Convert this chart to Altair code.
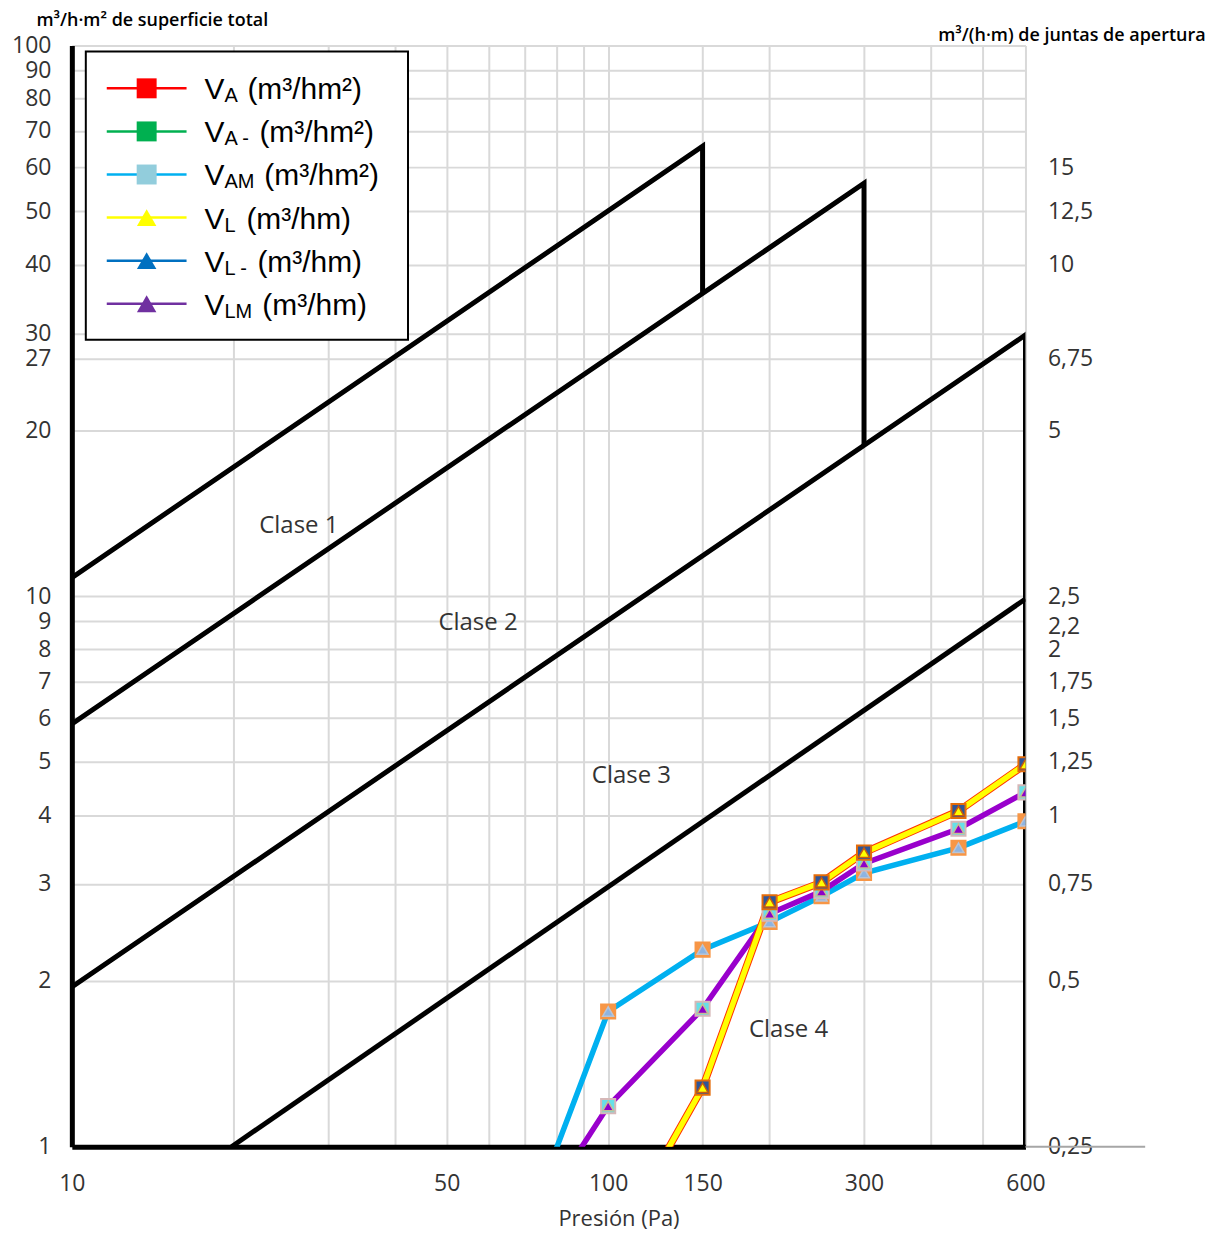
import json
import altair as alt
import pandas as pd

# ---------------- data ----------------
pressure = [50, 100, 150, 200, 250, 300, 450, 600]
serie_sup = [None, 0.636, 1.28, 2.78, 3.02, 3.42, 4.07, 4.95]   # VA / VL (yellow)
serie_med = [0.418, 1.185, 1.78, 2.65, 2.91, 3.27, 3.78, 4.40]  # VAM / VLM (purple)
serie_inf = [0.295, 1.76, 2.28, 2.56, 2.85, 3.14, 3.49, 3.90]   # VA- / VL- (cyan)

clase1_x = [10, 150, 150]
clase1_y = [10.8, 65.6, 35.5]
clase2_x = [10, 300, 300]
clase2_y = [5.86, 56.2, 18.8]
clase3_x = [10, 600, 600]
clase3_y = [1.95, 29.8, 1.0]
clase4_x = [19.85, 600]
clase4_y = [1.0, 9.88]

clase_labels = ["Clase 1", "Clase 2", "Clase 3", "Clase 4"]
clase_label_x = [26.5, 57.2, 110.5, 217]
clase_label_y = [13.4, 8.93, 4.72, 1.63]

x_grid = [10, 20, 30, 40, 50, 60, 70, 80, 90, 100, 150, 200, 300, 400, 500, 600]
x_labels = [10, 50, 100, 150, 300, 600]
y_ticks = [1, 2, 3, 4, 5, 6, 7, 8, 9, 10, 20, 27, 30, 40, 50, 60, 70, 80, 90, 100]
y2_ticks = [0.25, 0.5, 0.75, 1, 1.25, 1.5, 1.75, 2, 2.2, 2.5, 5, 6.75, 10, 12.5, 15]

legend_subs = ["A", "A -", "AM", "L", "L -", "LM"]
legend_units = ["(m³/hm²)", "(m³/hm²)", "(m³/hm²)", "(m³/hm)", "(m³/hm)", "(m³/hm)"]
legend_line_colors = ["#FF0000", "#00B050", "#00B0F0", "#FFFF00", "#0070C0", "#7030A0"]
legend_marker_colors = ["#FF0000", "#00B050", "#92CDDC", "#FFFF00", "#0070C0", "#7030A0"]
legend_shapes = ["square", "square", "square", "triangle-up", "triangle-up", "triangle-up"]

# ---------------- layout / style ----------------
W, H = 956, 1104
LABEL_FONT = "Open Sans"
TXT = "#333333"
GRID = "#D9D9D9"

xs = alt.Scale(type="log", domain=[10, 600], nice=False)
ys = alt.Scale(type="log", domain=[1, 100], nice=False)

x_axis = alt.Axis(
    values=x_grid,
    labelExpr=f"indexof({json.dumps(x_labels)}, datum.value) >= 0 ? format(datum.value, 'd') : ''",
    grid=True, gridColor=GRID, gridWidth=2, ticks=False,
    domainColor="black", domainWidth=5,
    labelFont=LABEL_FONT, labelFontSize=23, labelColor=TXT, labelPadding=26,
    labelOverlap=False, labelFlush=False,
    title="Presión (Pa)", titleFont=LABEL_FONT, titleFontSize=22, titleFontWeight="normal",
    titleColor=TXT, titleX=548, titleY=72, titleAlign="center", titleBaseline="middle",
)
y_axis = alt.Axis(
    values=y_ticks, format="d",
    grid=True, gridColor=GRID, gridWidth=2, ticks=False,
    domainColor="black", domainWidth=5,
    labelFont=LABEL_FONT, labelFontSize=23, labelColor=TXT, labelPadding=21,
    labelOverlap=False, labelFlush=False,
    title="m³/h·m² de superficie total", titleFont=LABEL_FONT, titleFontSize=18,
    titleFontWeight=600, titleColor="black", titleAngle=0, titleX=-36, titleY=-25,
    titleAlign="left", titleBaseline="middle",
)
y2_axis = alt.Axis(
    orient="right", values=y2_ticks,
    labelExpr="replace(format(datum.value, '~g'), '.', ',')",
    grid=False, ticks=False, domain=False,
    labelFont=LABEL_FONT, labelFontSize=23, labelColor=TXT, labelPadding=22,
    labelOverlap=False, labelFlush=False,
    title="m³/(h·m) de juntas de apertura", titleFont=LABEL_FONT, titleFontSize=18,
    titleFontWeight=600, titleColor="black", titleAngle=0, titleX=-88, titleY=-10,
    titleAlign="left", titleBaseline="middle",
)

# ---------------- class boundaries ----------------
rows = []
for name, xx, yy in [("c1", clase1_x, clase1_y), ("c2", clase2_x, clase2_y),
                     ("c3", clase3_x, clase3_y), ("c4", clase4_x, clase4_y)]:
    for i, (a, b) in enumerate(zip(xx, yy)):
        rows.append({"x": a, "y": b, "clase": name, "i": i})
df_cl = pd.DataFrame(rows)

classes = alt.Chart(df_cl).mark_line(color="black", strokeWidth=5, strokeJoin="miter", clip=True).encode(
    x=alt.X("x:Q", scale=xs, axis=x_axis),
    y=alt.Y("y:Q", scale=ys, axis=y_axis),
    detail="clase:N",
    order="i:Q",
)

df_lab = pd.DataFrame({"x": clase_label_x, "y": clase_label_y, "t": clase_labels})
class_text = alt.Chart(df_lab).mark_text(font=LABEL_FONT, fontSize=24, color=TXT,
                                         align="center", baseline="middle").encode(
    x=alt.X("x:Q", scale=xs), y=alt.Y("y:Q", scale=ys), text="t:N")

# ---------------- measured series ----------------
def series_df(vals):
    return pd.DataFrame({"p": pressure, "v": vals})

def enc(ch):
    return ch.encode(x=alt.X("p:Q", scale=xs), y=alt.Y("v:Q", scale=ys))

series_layers = []
styles = [
    # values, line colour, underlay, square fill, square stroke, tri fill, tri stroke
    (serie_inf, "#00B0F0", None, "#F79646", "#F79646", "#8DB4E2", "#B8C4D6"),
    (serie_med, "#9900CC", None, "#66E0E8", "#D6B8B8", "#8E00C8", "#C4BD97"),
    (serie_sup, "#FFFF00", "#FF3300", "#2F5597", "#E46C0A", "#FFFF00", "#C55A11"),
]
for vals, lc, under, sqf, sqs, trf, trs in styles:
    d = series_df(vals)
    if under:
        series_layers.append(enc(alt.Chart(d).mark_line(color=under, strokeWidth=7.5, clip=True)))
    series_layers.append(enc(alt.Chart(d).mark_line(color=lc, strokeWidth=5.5, clip=True)))
for vals, lc, under, sqf, sqs, trf, trs in styles:
    d = series_df(vals)
    series_layers.append(enc(alt.Chart(d).mark_point(shape="square", filled=True, size=200,
                                                     fill=sqf, stroke=sqs, strokeWidth=2,
                                                     opacity=1, clip=True)))
    series_layers.append(enc(alt.Chart(d).mark_point(shape="triangle-up", filled=True, size=120,
                                                     fill=trf, stroke=trs, strokeWidth=1.5,
                                                     opacity=1, clip=True)))

# ---------------- manual legend (pixel layout) ----------------
one = pd.DataFrame({"k": [0]})
leg = []
leg.append(alt.Chart(one).mark_rect(fill="white", stroke="black", strokeWidth=2).encode(
    x=alt.value(14), x2=alt.value(337), y=alt.value(6), y2=alt.value(295)))
rest_x = [176, 188, 193, 175, 186, 191]
for i in range(6):
    cy = 43 + 43.2 * i
    leg.append(alt.Chart(one).mark_rule(color=legend_line_colors[i], strokeWidth=2.5).encode(
        x=alt.value(35), x2=alt.value(115), y=alt.value(cy)))
    sz = 400 if legend_shapes[i] == "square" else 380
    leg.append(alt.Chart(one).mark_point(shape=legend_shapes[i], filled=True, size=sz,
                                         color=legend_marker_colors[i], opacity=1).encode(
        x=alt.value(75), y=alt.value(cy)))
    leg.append(alt.Chart(one).mark_text(text="V", font="Liberation Sans", fontSize=30, color="black",
                                        align="left", baseline="alphabetic").encode(
        x=alt.value(133), y=alt.value(cy + 11)))
    leg.append(alt.Chart(one).mark_text(text=legend_subs[i], font="Liberation Sans", fontSize=20,
                                        color="black", align="left", baseline="alphabetic").encode(
        x=alt.value(153), y=alt.value(cy + 14)))
    leg.append(alt.Chart(one).mark_text(text=legend_units[i], font="Liberation Sans", fontSize=30,
                                        color="black", align="left", baseline="alphabetic").encode(
        x=alt.value(rest_x[i]), y=alt.value(cy + 11)))

extra_rule = alt.Chart(one).mark_rule(color="#A6A6A6", strokeWidth=2).encode(
    x=alt.value(W), x2=alt.value(W + 120), y=alt.value(H))

main = alt.layer(classes, class_text, *series_layers, extra_rule, *leg)

right = alt.Chart(pd.DataFrame({"v": y2_ticks})).mark_point(opacity=0).encode(
    y=alt.Y("v:Q", scale=alt.Scale(type="log", domain=[0.25, 25], nice=False), axis=y2_axis))

chart = alt.layer(main, right).resolve_scale(y="independent").properties(
    width=W, height=H,
    padding={"left": 64, "top": 36, "right": 190, "bottom": 86},
    autosize=alt.AutoSizeParams(type="none"),
).configure_view(stroke=None)

chart.save("out.html", embed_options={"renderer": "svg", "actions": False})
